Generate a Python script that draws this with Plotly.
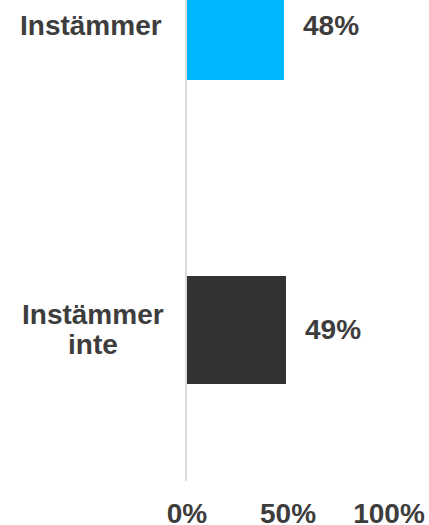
import plotly.graph_objects as go

categories = ["Instämmer", "Instämmer inte"]
values = [48, 49]
bar_colors = ["#00b7ff", "#333333"]
x_ticks = [0, 50, 100]
x_tick_labels = ["0%", "50%", "100%"]

TEXT = "#3d3d3d"
FONT = dict(family="Arial, Liberation Sans, sans-serif", size=28, color=TEXT, weight="bold")

fig = go.Figure(go.Bar(
    x=values, y=categories, orientation="h",
    marker=dict(color=bar_colors, line=dict(width=0)),
    width=0.355, hoverinfo="skip",
))

# value labels to the right of the bars
for cat, v in zip(categories, values):
    fig.add_annotation(x=v, y=cat, text=f"{v}%", showarrow=False,
                       xanchor="left", xshift=17, font=FONT)

# category labels on the left
fig.add_annotation(x=0, xref="paper", y=categories[0], text="Instämmer",
                   showarrow=False, xanchor="right", xshift=-23, font=FONT)
fig.add_annotation(x=-0.463, xref="paper", y=categories[1], text="Instämmer",
                   showarrow=False, xanchor="center", yshift=15, font=FONT)
fig.add_annotation(x=-0.463, xref="paper", y=categories[1], text="inte",
                   showarrow=False, xanchor="center", yshift=-15, font=FONT)

fig.update_layout(
    width=429, height=525,
    margin=dict(l=187, r=40, t=0, b=44),
    paper_bgcolor="white", plot_bgcolor="white",
    showlegend=False,
    xaxis=dict(range=[0, 100], tickvals=x_ticks, ticktext=x_tick_labels,
               showgrid=False, zeroline=False, showline=False, automargin=False,
               ticks="", ticklabelstandoff=13, tickfont=FONT, fixedrange=True),
    yaxis=dict(categoryorder="array", categoryarray=categories,
               range=[1.497, -0.0855], showticklabels=False, automargin=False,
               showgrid=False, zeroline=False,
               showline=True, linecolor="#dcdcdc", linewidth=2, fixedrange=True),
)

# drop the default page margin so the chart sits at the window's corner
fig.write_html("out.html", config={"displayModeBar": False},
               post_script="document.body.style.margin='0';")
